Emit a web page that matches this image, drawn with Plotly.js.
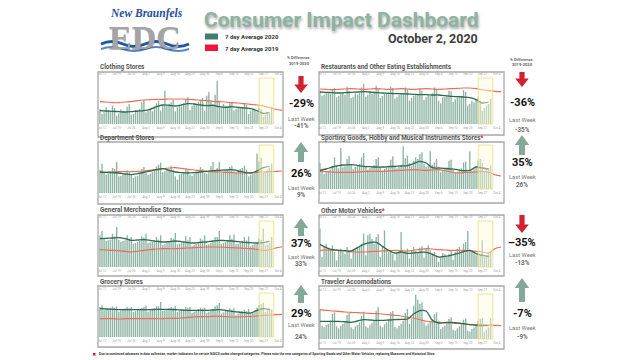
<!DOCTYPE html>
<html><head><meta charset="utf-8">
<script src="https://cdn.plot.ly/plotly-3.0.1.min.js"></script>
<style>html,body{margin:0;padding:0;background:#fff;overflow:hidden}#chart{width:640px;height:360px}</style>
</head><body><div id="chart"></div>
<script>
// ---------- DATA ----------
const panelTitles = ['Clothing Stores','Restaurants and Other Eating Establishments','Department Stores',
  'Sporting Goods, Hobby and Musical Instruments Stores','General Merchandise Stores','Other Motor Vehicles',
  'Grocery Stores','Traveler Accomodations'];
const titleStar = [false,false,false,true,false,true,false,false];
const pctDiff = ['-29%','-36%','26%','35%','37%','\u201335%','29%','-7%'];
const lastWeek = ['-41%','-35%','9%','26%','33%','-13%','24%','-9%'];
const arrowDir = ['down','down','up','up','up','down','up','up'];
const tickDates = ['2020-07-12','2020-07-19','2020-07-26','2020-08-02','2020-08-09','2020-08-16','2020-08-23',
  '2020-08-30','2020-09-06','2020-09-13','2020-09-20','2020-09-27','2020-10-04'];
const tickLabels = ['Jul 12','Jul 19','Jul 26','Aug 2','Aug 9','Aug 16','Aug 23','Aug 30','Sep 6','Sep 13','Sep 20','Sep 27','Oct 4'];
const lastWeekStart = '2020-09-25', lastWeekEnd = '2020-10-02';

// daily 2020 values, Jul 11 .. Oct 1
const clothingBars = [45,30,35,50,42,38,55, 48,25,32,44,40,36,52, 60,28,30,42,38,45,66, 72,35,40,48,38,52,62,
  70,40,58,100,55,60,65, 72,38,50,58,52,62,75, 80,42,55,62,58,66,70, 78,40,85,95,72,60,88,
  130,70,50,60,55,48,62, 66,40,45,52,50,48,60, 58,30,40,46,42,35,50, 45,22,28,35,30,52];
const restaurantBars = [100,85,88,95,92,90,105, 108,80,85,90,95,88,112, 100,78,82,92,88,95,110, 120,82,88,95,90,98,115,
  105,78,84,90,92,95,112, 108,76,80,88,90,92,110, 104,70,78,85,88,90,108, 100,72,80,86,84,92,110,
  104,70,62,80,82,86,100, 98,66,74,80,78,84,102, 96,55,60,70,65,72,80, 70,40,48,55,60,75];
const departmentBars = [70,88,60,55,58,62,75, 72,93,50,52,55,58,68, 62,55,45,50,52,60,72, 78,60,55,58,62,68,80,
  85,91,62,65,70,72,82, 70,50,40,55,58,62,75, 68,55,52,58,60,62,78, 72,60,58,62,80,93,70,
  75,93,60,62,66,70,78, 80,65,62,68,72,75,82, 70,50,55,60,62,118,95, 106,60,65,70,75,88];
const sportingBars = [78,60,45,50,55,58,70, 95,70,62,123,65,68,90, 100,72,60,66,70,75,95, 108,70,58,62,68,72,90,
  95,66,55,60,65,70,88, 98,70,62,66,72,128,92, 100,78,70,85,95,90,105, 110,75,66,70,113,72,80,
  90,60,50,55,60,65,85, 88,58,48,52,58,62,80, 82,50,113,55,60,65,85, 90,78,52,58,62,70];
const generalMerchBars = [95,108,85,78,80,82,100, 92,120,82,75,78,80,95, 85,90,70,72,75,78,92, 88,100,72,74,76,80,90,
  82,95,65,68,72,75,88, 85,102,68,70,74,78,92, 80,90,62,66,70,72,86, 82,95,66,68,72,76,90,
  90,108,70,72,75,80,95, 85,98,68,70,74,78,90, 80,92,62,66,70,72,86, 82,115,65,68,72,90];
const motorVehicleBars = [115,30,60,70,55,50,65, 45,20,50,55,45,40,60, 50,25,48,52,58,62,70, 100,35,95,100,85,70,90,
  98,30,60,110,55,45,50, 40,20,45,50,105,42,48, 55,25,50,60,48,45,58, 62,28,55,65,50,40,45,
  35,15,30,42,38,30,40, 48,22,45,55,60,50,70, 75,108,50,45,40,35,42, 38,80,30,35,40,45];
const groceryBars = [90,95,80,82,85,88,92, 88,92,76,80,84,86,90, 86,90,75,78,82,85,88, 90,94,76,80,84,86,92,
  92,105,78,80,82,86,90, 88,92,75,78,82,84,90, 86,90,72,76,80,84,88, 85,88,72,76,80,84,92,
  95,102,70,74,78,80,86, 82,86,65,70,74,76,82, 78,84,68,72,80,88,95, 98,103,76,80,85,82];
const travelerBars = [88,40,35,42,45,55,75, 80,38,32,40,45,52,72, 78,35,30,38,42,50,70, 82,38,34,42,48,55,85,
  96,40,35,44,50,58,80, 84,36,32,40,46,55,78, 90,45,60,100,133,118,105, 110,50,40,45,50,58,75,
  80,55,30,35,40,45,60, 65,28,25,32,38,45,58, 62,25,22,30,35,40,55, 60,63,22,28,35,63];

// 7 day averages, every 3rd day from Jul 11 (2020 to Sep 30, 2019 to Oct 6)
const clothingAvg2020 = [40,39,38,37,36,37,39,40,44,52,57,56,54,57,61,60,57,55,56,52,50,52,50,48,46,40,32,34];
const clothingAvg2019 = [67,66,64,64,66,67,70,72,73,74,74,75,75,75,74,73,71,70,68,67,66,64,63,61,59,57,54,49,44,41];
const restaurantAvg2020 = [96,95,94,93,94,95,96,97,96,94,93,92,91,91,90,89,88,88,87,87,85,83,82,81,79,73,63,66];
const restaurantAvg2019 = [105,104,103,104,105,106,105,104,105,106,105,104,105,106,105,104,105,106,105,104,105,106,107,108,108,106,103,100,98,97];
const departmentAvg2020 = [63,62,61,60,57,55,58,62,66,70,73,68,63,61,60,61,63,65,67,68,69,70,66,62,60,66,76,80];
const departmentAvg2019 = [61,62,63,64,64,64,65,66,68,71,73,75,76,74,71,69,67,65,64,63,62,61,60,60,61,62,63,64,65,66];
const sportingAvg2020 = [56,60,66,70,72,73,71,68,67,66,66,67,68,69,70,76,83,78,64,63,62,60,58,55,56,66,63,60];
const sportingAvg2019 = [53,52,51,50,50,50,51,52,53,53,53,54,55,56,57,58,57,56,57,58,55,51,48,49,50,51,53,50,43,39];
const generalMerchAvg2020 = [85,86,87,88,85,80,81,82,80,77,75,76,78,76,73,72,74,75,78,80,79,78,76,74,73,72,73,77];
const generalMerchAvg2019 = [52,51,50,49,47,45,47,50,52,54,55,55,55,56,57,58,59,60,60,60,59,58,57,56,55,53,50,52,57,61];
const motorVehicleAvg2020 = [68,58,52,50,49,48,58,68,73,74,62,50,42,45,41,42,44,44,38,30,32,35,40,46,50,40,35,32];
const motorVehicleAvg2019 = [50,51,50,50,48,45,45,45,46,47,48,49,50,49,48,50,53,55,54,52,51,50,50,50,49,47,45,42,55,60];
const groceryAvg2020 = [85,84,83,82,82,82,82,82,82,83,83,83,82,81,80,80,80,80,81,82,80,77,75,73,72,80,85,82];
const groceryAvg2019 = [55,55,55,54,55,55,55,55,55,55,55,56,56,57,59,60,61,61,62,62,61,60,60,61,62,63,65,66,67,68];
const travelerAvg2020 = [53,53,53,53,52,50,54,58,57,56,56,57,58,59,60,75,85,84,56,48,49,50,48,46,43,41,40,40];
const travelerAvg2019 = [88,86,84,83,81,80,79,78,77,76,75,73,71,69,65,62,58,53,51,50,49,48,47,45,43,43,43,42,41,40];

const footnote = 'Due to continued advances in data collection, marker indicators for certain NAICS codes changed categories. Please note the new categories of Sporting Goods and Other Motor Vehicles, replacing Museums and Historical Sites';

// ---------- BUILD ----------
const barSets = [clothingBars,restaurantBars,departmentBars,sportingBars,generalMerchBars,motorVehicleBars,groceryBars,travelerBars];
const avg20 = [clothingAvg2020,restaurantAvg2020,departmentAvg2020,sportingAvg2020,generalMerchAvg2020,motorVehicleAvg2020,groceryAvg2020,travelerAvg2020];
const avg19 = [clothingAvg2019,restaurantAvg2019,departmentAvg2019,sportingAvg2019,generalMerchAvg2019,motorVehicleAvg2019,groceryAvg2019,travelerAvg2019];

const fmt = d => d.toISOString().slice(0,10);
const start = Date.UTC(2020,6,11);
const dayDates = barSets[0].map((_,i)=>fmt(new Date(start+i*864e5)));
const lineDates = avg19[0].map((_,k)=>fmt(new Date(start+3*k*864e5)));

const W=640,H=360;
const px = x=>x/W, py = y=>1-y/H;
const colBox = [[98,283],[319,504]];
const colRange = [['2020-07-10 02:00','2020-10-06 10:00'],['2020-07-10 13:00','2020-10-07 10:00']];
const geo = [
  {col:0, box:[72,137], plot:[78,124], ymax:138, top:true, ty:67},
  {col:1, box:[72,135], plot:[78,124], ymax:138, top:true, ty:67},
  {col:0, box:[142,204], plot:[145,193], ymax:144, top:false, ty:137.5},
  {col:1, box:[142,203], plot:[145,189], ymax:132, top:false, ty:137.5},
  {col:0, box:[215,276], plot:[221,267], ymax:138, top:true, ty:210},
  {col:1, box:[215,276], plot:[221,267], ymax:138, top:true, ty:210.5},
  {col:0, box:[286,347], plot:[293,337], ymax:132, top:true, ty:282},
  {col:1, box:[286,349], plot:[294,339], ymax:135, top:true, ty:282}
];
const arrowGeo = [[301,76,93],[522,72,87],[301,142,162],[522,135,155],[301,218,236],[522,215,233],[301,285,303],[522,278,302]];
const textGeo = [[104,119,126],[102,120,130],[173,188,194.5],[163,177,185],[243,257,263.5],[242,255,263],[313,325,337],[313,328,337]];

const traces=[], shapes=[], annotations=[];
const layout = {width:W,height:H,margin:{l:0,r:0,t:0,b:0},paper_bgcolor:'#fff',plot_bgcolor:'rgba(0,0,0,0)',
  showlegend:false,bargap:0.3,font:{family:'Roboto, sans-serif'}};
function ann(o){annotations.push(Object.assign({xref:'paper',yref:'paper',showarrow:false,xanchor:'center',yanchor:'middle'},o));}

geo.forEach((g,i)=>{
  const xb='x'+(2*i+1), xt='x'+(2*i+2), yy='y'+(i+1);
  const xbN='xaxis'+(2*i+1), xtN='xaxis'+(2*i+2), yN='yaxis'+(i+1);
  const cb=colBox[g.col];
  const axBase={type:'date',domain:[px(cb[0]),px(cb[1])],range:colRange[g.col],tickmode:'array',tickvals:tickDates,
    ticktext:tickLabels,tickfont:{size:3,color:'#a0a0a0'},showgrid:false,zeroline:false,ticks:'',showline:false,
    ticklabelstandoff:1,fixedrange:true};
  layout[xbN]=Object.assign({},axBase,{anchor:yy});
  layout[xtN]=Object.assign({},axBase,{anchor:yy,overlaying:xb,side:'top',showticklabels:g.top});
  layout[yN]={domain:[py(g.plot[1]),py(g.plot[0])],range:[0,g.ymax],visible:false,fixedrange:true,anchor:xb};
  traces.push({type:'bar',x:dayDates,y:barSets[i],xaxis:xb,yaxis:yy,marker:{color:'rgba(96,148,126,0.7)'},width:864e5*0.66,hoverinfo:'skip'});
  traces.push({type:'scatter',mode:'lines',x:lineDates,y:avg19[i],xaxis:xb,yaxis:yy,line:{color:'#ee6b57',width:1.1,shape:'spline'},hoverinfo:'skip'});
  traces.push({type:'scatter',mode:'lines',x:lineDates.slice(0,avg20[i].length),y:avg20[i],xaxis:xb,yaxis:yy,line:{color:'#2c6b4f',width:1.3,shape:'spline'},hoverinfo:'skip'});
  traces.push({type:'scatter',mode:'markers',x:[tickDates[0]],y:[0],xaxis:xt,yaxis:yy,marker:{opacity:0,size:1},hoverinfo:'skip'});
  shapes.push({type:'rect',xref:xb,yref:yy+' domain',x0:lastWeekStart,x1:lastWeekEnd,y0:0,y1:1,
    fillcolor:'rgba(255,250,215,0.45)',line:{color:'#ecdc86',width:0.8},layer:'above'});
  shapes.push({type:'rect',xref:'paper',yref:'paper',x0:px(cb[0]),x1:px(cb[1]),y0:py(g.box[1]),y1:py(g.box[0]),
    line:{color:'#a8a8a8',width:1.3},fillcolor:'rgba(0,0,0,0)'});
  ann({x:px(cb[0]),y:py(g.ty),xanchor:'left',
    text:'<b>'+panelTitles[i]+'</b>'+(titleStar[i]?'<span style="color:#e8102e"><b>*</b></span>':''),
    font:{size:6.4,color:'#555'}});
  const [cx,t,b]=arrowGeo[i];
  const up=arrowDir[i]==='up';
  const sw=up?3:2.6, hw=up?7.2:6.8, hh=up?10:8.5;
  const P=(x,y)=>px(x)+','+py(y);
  let path;
  if(up){path='M'+P(cx,t)+' L'+P(cx+hw,t+hh)+' L'+P(cx+sw,t+hh)+' L'+P(cx+sw,b)+' L'+P(cx-sw,b)+' L'+P(cx-sw,t+hh)+' L'+P(cx-hw,t+hh)+' Z';}
  else{path='M'+P(cx-sw,t)+' L'+P(cx+sw,t)+' L'+P(cx+sw,b-hh)+' L'+P(cx+hw,b-hh)+' L'+P(cx,b)+' L'+P(cx-hw,b-hh)+' L'+P(cx-sw,b-hh)+' Z';}
  shapes.push({type:'path',xref:'paper',yref:'paper',path:path,fillcolor:up?'#84a99a':'#d0232f',line:{width:0}});
  const [yp,yl,yv]=textGeo[i];
  ann({x:px(cx),y:py(yp),text:'<b>'+pctDiff[i]+'</b>',font:{size:11,color:'#111'}});
  ann({x:px(cx),y:py(yl),text:'Last Week',font:{size:5.8,color:'#7a7a7a'}});
  ann({x:px(cx),y:py(yv),text:'<b>'+lastWeek[i]+'</b>',font:{size:6.3,color:'#6a6a6a'}});
});

[[299,57.5,63],[522,59.5,64.5]].forEach(([x,y1,y2])=>{
  ann({x:px(x),y:py(y1),text:'<b>% Difference</b>',font:{size:4,color:'#666'}});
  ann({x:px(x),y:py(y2),text:'<b>2019-2020</b>',font:{size:4,color:'#666'}});
});

// header
ann({x:px(341),y:py(20),text:'<b>Consumer Impact Dashboard</b>',
  font:{size:21,color:'#8db3a2',shadow:'1px 2px 3px rgba(0,0,0,0.35)'}});
ann({x:px(480),y:py(38.5),xanchor:'right',text:'<b>October 2, 2020</b>',font:{size:12.5,color:'#3d3d3d'}});
shapes.push({type:'rect',xref:'paper',yref:'paper',x0:px(205),x1:px(218),y0:py(39.5),y1:py(33.5),fillcolor:'#3f8068',line:{width:0}});
shapes.push({type:'rect',xref:'paper',yref:'paper',x0:px(205),x1:px(218),y0:py(51),y1:py(44.5),fillcolor:'#f0143c',line:{width:0}});
ann({x:px(223),y:py(37),xanchor:'left',text:'<b>7 day Average 2020</b>',font:{size:6,color:'#333'}});
ann({x:px(223),y:py(48.3),xanchor:'left',text:'<b>7 day Average 2019</b>',font:{size:6,color:'#333'}});

// logo
ann({x:px(145),y:py(37.5),text:'<b>EDC</b>',
  font:{family:'Liberation Serif, serif',size:34,color:'#a4a4a4',shadow:'0px 1px 1px rgba(0,0,0,0.3)'}});
ann({x:px(146),y:py(13.5),text:'<b><i>New Braunfels</i></b>',font:{family:'Liberation Serif, serif',size:11.5,color:'#1f4ea3'}});
const P2=(x,y)=>px(x)+','+py(y);
shapes.push({type:'path',xref:'paper',yref:'paper',line:{color:'#1d58a6',width:3},
  path:'M'+P2(101,44)+' Q'+P2(112,39)+' '+P2(123,44)+' T'+P2(145,44)+' T'+P2(167,44)+' T'+P2(189,44)});
shapes.push({type:'path',xref:'paper',yref:'paper',line:{color:'#4f86cc',width:2},
  path:'M'+P2(101,49)+' Q'+P2(112,45)+' '+P2(123,49)+' T'+P2(145,49)+' T'+P2(167,49)+' T'+P2(189,49)});

// footnote
shapes.push({type:'rect',xref:'paper',yref:'paper',x0:px(93),x1:px(95.5),y0:py(355.5),y1:py(353),fillcolor:'#e8102e',line:{width:0}});
ann({x:px(96.5),y:py(354.2),xanchor:'left',text:'<b>'+footnote+'</b>',font:{size:3.3,color:'#333'}});

layout.shapes=shapes; layout.annotations=annotations;
Plotly.newPlot('chart',traces,layout,{staticPlot:true,displayModeBar:false});
</script></body></html>
